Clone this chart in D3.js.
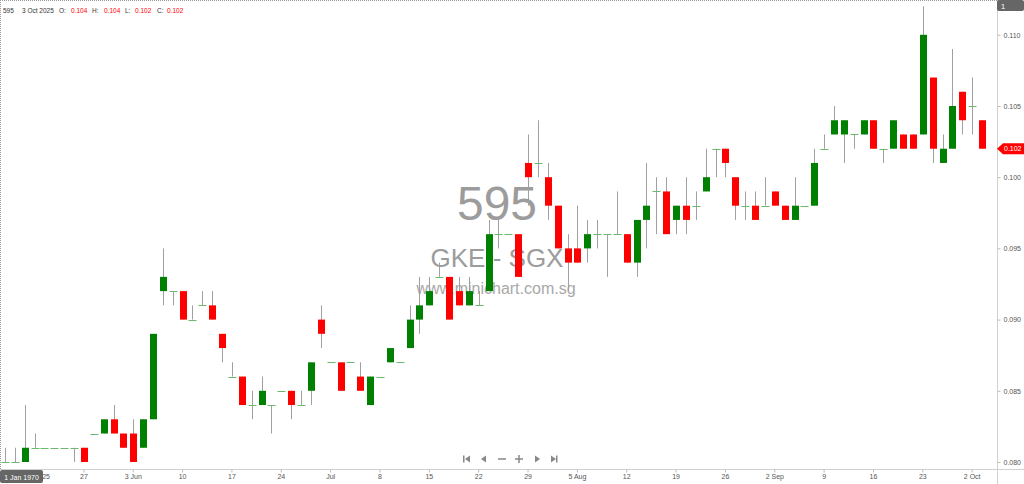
<!DOCTYPE html>
<html><head><meta charset="utf-8">
<script src="https://cdn.jsdelivr.net/npm/d3@7/dist/d3.min.js"></script>
<style>
html,body{margin:0;padding:0;background:#fff;}
svg{display:block;font-family:"Liberation Sans",Arial,sans-serif;}
</style></head>
<body><svg id="chart" width="1024" height="484"></svg>
<script>
// ---- data (index = trading day, 15 May 2025 .. 3 Oct 2025) ----
const opens = [0.080,0.080,0.080,0.081,0.081,0.081,0.081,0.081,0.081,0.082,
0.082,0.083,0.082,0.082,0.081,0.083,0.092,0.092,0.092,0.090,
0.091,0.091,0.089,0.086,0.086,0.084,0.084,0.084,0.085,0.085,
0.084,0.085,0.090,0.087,0.087,0.087,0.086,0.084,0.086,0.087,
0.087,0.088,0.090,0.091,0.093,0.093,0.092,0.091,0.091,0.092,
0.096,0.096,0.096,0.101,0.101,0.100,0.098,0.095,0.095,0.095,
0.096,0.096,0.096,0.096,0.094,0.097,0.099,0.099,0.097,0.098,
0.098,0.099,0.102,0.102,0.100,0.098,0.098,0.098,0.099,0.098,
0.097,0.098,0.098,0.102,0.103,0.103,0.103,0.103,0.104,0.102,
0.102,0.103,0.103,0.103,0.107,0.101,0.102,0.106,0.105,0.104];
const highs = [0.081,0.081,0.084,0.082,0.081,0.081,0.081,0.081,0.081,0.082,
0.083,0.084,0.082,0.083,0.083,0.089,0.095,0.092,0.092,0.091,
0.092,0.092,0.089,0.087,0.086,0.085,0.086,0.084,0.085,0.085,
0.085,0.087,0.091,0.087,0.087,0.087,0.087,0.086,0.086,0.088,
0.087,0.091,0.093,0.093,0.094,0.093,0.093,0.093,0.092,0.097,
0.097,0.096,0.096,0.103,0.104,0.101,0.098,0.096,0.098,0.097,
0.097,0.096,0.099,0.096,0.097,0.101,0.100,0.100,0.098,0.100,
0.099,0.102,0.102,0.102,0.100,0.099,0.099,0.100,0.099,0.098,
0.100,0.098,0.102,0.103,0.105,0.104,0.103,0.104,0.104,0.102,
0.104,0.103,0.103,0.112,0.107,0.103,0.109,0.106,0.107,0.104];
const lows = [0.080,0.080,0.080,0.081,0.081,0.081,0.081,0.080,0.080,0.082,
0.082,0.082,0.081,0.080,0.081,0.083,0.091,0.091,0.090,0.090,
0.091,0.090,0.087,0.086,0.084,0.083,0.084,0.082,0.085,0.083,
0.084,0.084,0.088,0.087,0.085,0.087,0.085,0.084,0.086,0.087,
0.087,0.088,0.089,0.091,0.093,0.090,0.091,0.091,0.091,0.092,
0.095,0.096,0.093,0.098,0.100,0.097,0.095,0.092,0.094,0.094,
0.095,0.093,0.096,0.094,0.093,0.095,0.096,0.096,0.096,0.096,
0.097,0.099,0.100,0.100,0.097,0.097,0.097,0.098,0.098,0.097,
0.097,0.098,0.098,0.102,0.103,0.101,0.102,0.103,0.102,0.101,
0.102,0.102,0.102,0.103,0.101,0.101,0.102,0.103,0.103,0.102];
const closes = [0.080,0.080,0.081,0.081,0.081,0.081,0.081,0.081,0.080,0.082,
0.083,0.082,0.081,0.080,0.083,0.089,0.093,0.092,0.090,0.090,
0.091,0.090,0.088,0.086,0.084,0.084,0.085,0.084,0.085,0.084,
0.084,0.087,0.089,0.087,0.085,0.087,0.085,0.086,0.086,0.088,
0.087,0.090,0.091,0.092,0.093,0.090,0.091,0.092,0.091,0.096,
0.096,0.096,0.093,0.100,0.101,0.098,0.095,0.094,0.094,0.096,
0.096,0.096,0.096,0.094,0.097,0.098,0.099,0.096,0.098,0.097,
0.098,0.100,0.102,0.101,0.098,0.098,0.097,0.098,0.098,0.097,
0.098,0.098,0.101,0.102,0.104,0.104,0.103,0.104,0.102,0.102,
0.104,0.102,0.102,0.110,0.102,0.102,0.105,0.104,0.105,0.102];
const xTickIndex  = [3,8,13,18,23,28,33,38,43,48,53,58,63,68,73,78,83,88,93,98];
const xTickLabels = ["May 2025","27","3 Jun","10","17","24","Jul","8","15","22","29","5 Aug","12","19","26","2 Sep","9","16","23","2 Oct"];
const yTicks = [0.080,0.085,0.090,0.095,0.100,0.105,0.110];
const header = {code:"595", date:"3 Oct 2025", O:"0.104", H:"0.104", L:"0.102", C:"0.102"};
const lastPrice = 0.102;

// ---- drawing ----
const svg = d3.select("#chart");
const W = 1024, H = 484, plotRight = 997, axisY = 469;
const n = opens.length;
const x = d3.scaleBand().domain(d3.range(n)).range([0, 987]);
const y = d3.scaleLinear().domain([0.080, 0.110]).range([462, 34.8]);
const cx = i => x(i) + x.bandwidth()/2;

// watermark
const wm = svg.append("g").attr("fill", "#9c9c9c").attr("text-anchor", "middle");
wm.append("text").attr("x", 497).attr("y", 220).attr("font-size", 48).text("595");
wm.append("text").attr("x", 497).attr("y", 267).attr("font-size", 26).text("GKE - SGX");
wm.append("text").attr("x", 496).attr("y", 294).attr("font-size", 16).attr("fill","#a8a8a8").text("www.minichart.com.sg");

// border (dotted top/left)
svg.append("line").attr("x1",0).attr("x2",plotRight).attr("y1",0.5).attr("y2",0.5)
  .attr("stroke","#999").attr("stroke-dasharray","1,1");
svg.append("line").attr("x1",0.5).attr("x2",0.5).attr("y1",0).attr("y2",axisY)
  .attr("stroke","#999").attr("stroke-dasharray","1,1");

// candles
const g = svg.append("g");
const bw = 7;
d3.range(n).forEach(i => {
  const o = opens[i], c = closes[i], h = highs[i], l = lows[i];
  const xc = Math.round(cx(i)) + 0.5;
  if (h > l) {
    g.append("line").attr("x1", xc).attr("x2", xc)
      .attr("y1", y(h)).attr("y2", y(l)).attr("stroke", "#a0a0a0").attr("stroke-width", 1);
  }
  if (Math.abs(o - c) < 1e-9) {
    g.append("line").attr("x1", xc - bw/2 - 0.5).attr("x2", xc + bw/2 + 0.5)
      .attr("y1", Math.round(y(o)) + 0.5).attr("y2", Math.round(y(o)) + 0.5)
      .attr("stroke", "#6cb86c").attr("stroke-width", 1);
  } else {
    const top = y(Math.max(o, c)), bot = y(Math.min(o, c));
    g.append("rect").attr("x", xc - bw/2).attr("width", bw)
      .attr("y", top).attr("height", bot - top)
      .attr("fill", c > o ? "#008000" : "#ff0000");
  }
});

// right axis
svg.append("line").attr("x1", plotRight+0.5).attr("x2", plotRight+0.5).attr("y1", 0).attr("y2", H)
  .attr("stroke", "#d0d0d0");
const yAxis = svg.append("g").attr("transform", `translate(${plotRight+0.5},0)`)
  .call(d3.axisRight(y).tickValues(yTicks).tickFormat(d3.format(".3f")).tickSize(3).tickPadding(3));
yAxis.select(".domain").remove();
yAxis.selectAll(".tick line").attr("stroke", "#bbb");
yAxis.selectAll("text").attr("fill", "#555").attr("font-size", 7);

// bottom axis
svg.append("line").attr("x1", 0).attr("x2", W).attr("y1", axisY+0.5).attr("y2", axisY+0.5).attr("stroke", "#d0d0d0");
const xAxis = svg.append("g").attr("transform", `translate(0,${axisY+0.5})`)
  .call(d3.axisBottom(x).tickValues(xTickIndex).tickFormat((d) => xTickLabels[xTickIndex.indexOf(d)]).tickSize(3).tickPadding(2));
xAxis.select(".domain").remove();
xAxis.selectAll(".tick line").attr("stroke", "#bbb");
xAxis.selectAll("text").attr("fill", "#555").attr("font-size", 7);

// 1 Jan 1970 tag
svg.append("rect").attr("x", 0).attr("y", 470).attr("width", 43).attr("height", 13).attr("rx", 2).attr("fill", "#666");
svg.append("text").attr("x", 21.5).attr("y", 479.5).attr("text-anchor","middle").attr("fill","#fff").attr("font-size",7).text("1 Jan 1970");

// top right "1" tag
svg.append("rect").attr("x", 997).attr("y", 0).attr("width", 27).attr("height", 11).attr("rx", 2).attr("fill", "#666");
svg.append("text").attr("x", 1001).attr("y", 8.5).attr("fill","#fff").attr("font-size",7.5).text("1");

// last price marker
const py = y(lastPrice);
svg.append("path").attr("d", `M997,${py} L1003,${py-5.5} L1024,${py-5.5} L1024,${py+5.5} L1003,${py+5.5} Z`).attr("fill", "#ff0000");
svg.append("text").attr("x", 1004).attr("y", py+2.5).attr("fill","#fff").attr("font-size",7).text(lastPrice.toFixed(3));

// header
const hd = svg.append("g").attr("font-size", 6.5);
const parts = [
  [3, header.code, "#333"], [22, header.date, "#333"],
  [59, "O:", "#333"], [71, header.O, "#ff0000"],
  [92, "H:", "#333"], [104, header.H, "#ff0000"],
  [125, "L:", "#333"], [135, header.L, "#ff0000"],
  [157, "C:", "#333"], [167, header.C, "#ff0000"]
];
parts.forEach(p => hd.append("text").attr("x", p[0]).attr("y", 13).attr("fill", p[2]).text(p[1]));

// navigation icons
const nav = svg.append("g").attr("fill", "#888");
const ny = 459;
nav.append("rect").attr("x", 463).attr("y", ny-3.5).attr("width", 1.5).attr("height", 7);
nav.append("path").attr("d", `M465,${ny} L470,${ny-3.5} L470,${ny+3.5} Z`);
nav.append("path").attr("d", `M481,${ny} L486,${ny-3.5} L486,${ny+3.5} Z`);
nav.append("rect").attr("x", 498).attr("y", ny-0.75).attr("width", 8).attr("height", 1.5);
nav.append("rect").attr("x", 515).attr("y", ny-0.75).attr("width", 8).attr("height", 1.5);
nav.append("rect").attr("x", 518.25).attr("y", ny-4).attr("width", 1.5).attr("height", 8);
nav.append("path").attr("d", `M540,${ny} L535,${ny-3.5} L535,${ny+3.5} Z`);
nav.append("path").attr("d", `M556,${ny} L551,${ny-3.5} L551,${ny+3.5} Z`);
nav.append("rect").attr("x", 556).attr("y", ny-3.5).attr("width", 1.5).attr("height", 7);
</script></body></html>
